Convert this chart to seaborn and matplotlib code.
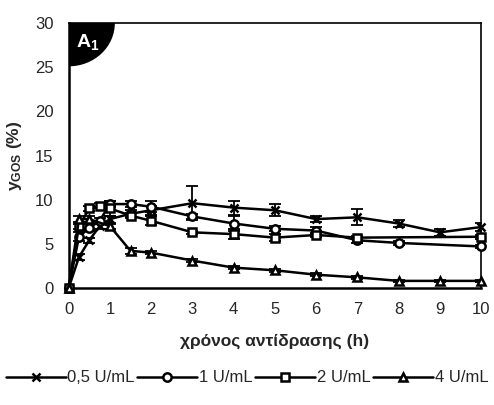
import pandas as pd
import seaborn as sns
import matplotlib.pyplot as plt
from matplotlib.patches import Ellipse

# Δεδομένα (τιμές από το διάγραμμα)
labels = ['0,5 U/mL', '1 U/mL', '2 U/mL', '4 U/mL']

t_05 = [0, 0.25, 0.5, 0.75, 1, 1.5, 2, 3, 4, 5, 6, 7, 8, 9, 10]
y_05 = [0, 3.5, 5.4, 7.0, 7.8, 8.4, 8.8, 9.6, 9.1, 8.8, 7.8, 8.0, 7.3, 6.3, 6.9]
e_05 = [0, 0.3, 0.3, 0.3, 0.4, 0.4, 0.5, 1.9, 0.8, 0.7, 0.3, 0.9, 0.4, 0.4, 0.5]

t_1 = [0, 0.25, 0.5, 0.75, 1, 1.5, 2, 3, 4, 5, 6, 7, 8, 10]
y_1 = [0, 5.8, 6.8, 7.6, 9.5, 9.5, 9.2, 8.1, 7.3, 6.7, 6.5, 5.4, 5.1, 4.7]
e_1 = [0, 0.5, 0.4, 0.3, 0.3, 0.3, 0.6, 0.3, 0.8, 0.3, 0.4, 0.3, 0.2, 0.2]

t_2 = [0, 0.25, 0.5, 0.75, 1, 1.5, 2, 3, 4, 5, 6, 7, 10]
y_2 = [0, 7.0, 9.0, 9.3, 9.0, 8.2, 7.6, 6.3, 6.1, 5.7, 6.0, 5.7, 5.8]
e_2 = [0, 0.3, 0.3, 0.3, 0.9, 0.3, 0.5, 0.2, 0.6, 0.4, 0.2, 0.2, 0.2]

t_4 = [0, 0.25, 0.5, 1, 1.5, 2, 3, 4, 5, 6, 7, 8, 9, 10]
y_4 = [0, 7.8, 7.8, 7.0, 4.2, 4.0, 3.1, 2.3, 2.0, 1.5, 1.2, 0.8, 0.8, 0.8]
e_4 = [0, 0.3, 0.3, 0.3, 0.3, 0.2, 0.2, 0.2, 0.2, 0.2, 0.2, 0.1, 0.1, 0.1]

series = [(t_05, y_05, e_05), (t_1, y_1, e_1), (t_2, y_2, e_2), (t_4, y_4, e_4)]
rows = []
for lab, (t, y, e) in zip(labels, series):
    for ti, yi, ei in zip(t, y, e):
        rows.append({'t': ti, 'y': yi, 'err': ei, 'conc': lab})
df = pd.DataFrame(rows)

sns.set_style('white')
plt.rcParams['font.family'] = ['Liberation Sans', 'DejaVu Sans']
plt.rcParams['mathtext.fontset'] = 'custom'
plt.rcParams['mathtext.rm'] = 'Liberation Sans'
plt.rcParams['mathtext.bf'] = 'Liberation Sans:bold'
plt.rcParams['mathtext.it'] = 'Liberation Sans:italic'

fig = plt.figure(figsize=(4.94, 4.05), dpi=100)
ax = fig.add_axes([0.139, 0.289, 0.835, 0.654])

markers = {'0,5 U/mL': 'x', '1 U/mL': 'o', '2 U/mL': 's', '4 U/mL': '^'}
sizes = {'0,5 U/mL': 10, '1 U/mL': 9.5, '2 U/mL': 7.5, '4 U/mL': 9.5}

# error bars πρώτα, από κάτω
for lab in labels:
    d = df[df['conc'] == lab]
    ax.errorbar(d['t'], d['y'], yerr=d['err'], fmt='none', ecolor='black',
                elinewidth=1.3, capsize=4.5, capthick=1.3, zorder=2)

for lab in labels:
    d = df[df['conc'] == lab]
    sns.lineplot(data=d, x='t', y='y', color='black', linewidth=1.8, ax=ax,
                 marker=markers[lab], markersize=sizes[lab],
                 markerfacecolor='white', markeredgecolor='black', markeredgewidth=1.7,
                 sort=False, zorder=3, label=lab, clip_on=False)

ax.set_xlim(0, 10)
ax.set_ylim(0, 30)
ax.set_xticks(range(0, 11))
ax.set_yticks(range(0, 31, 5))
ax.tick_params(labelsize=12, length=0)
ax.tick_params(axis='x', pad=10)
ax.tick_params(axis='y', pad=11)
for s in ax.spines.values():
    s.set_color('black')
    s.set_linewidth(1.2)
ax.spines['left'].set_linewidth(1.8)
ax.spines['bottom'].set_linewidth(1.8)

ax.set_xlabel('χρόνος αντίδρασης (h)', fontsize=12.5, fontweight='bold', labelpad=12)
ax.set_ylabel(r'$\mathbf{y_{GOS}}$ (%)', fontsize=12.5, fontweight='bold', labelpad=8)

# μαύρο τεταρτοκύκλιο με την ετικέτα
ax.add_patch(Ellipse((0, 30), 2 * 1.12, 2 * 4.9, facecolor='black', edgecolor='none', zorder=5))
ax.text(0.018, 0.93, r'A$_\mathbf{1}$', transform=ax.transAxes, color='white',
        fontsize=14, fontweight='bold', va='center', ha='left', zorder=6)

handles, labs = ax.get_legend_handles_labels()
ax.get_legend().remove()
for h in handles:
    h.set_markersize(6)
    h.set_markeredgewidth(1.8)
fig.legend(handles, labs, loc='center', bbox_to_anchor=(0.5, 0.067), ncol=4,
           frameon=False, fontsize=12, handlelength=3.6, handletextpad=0.1,
           columnspacing=0.15)

fig.savefig('out.png', dpi=100)
